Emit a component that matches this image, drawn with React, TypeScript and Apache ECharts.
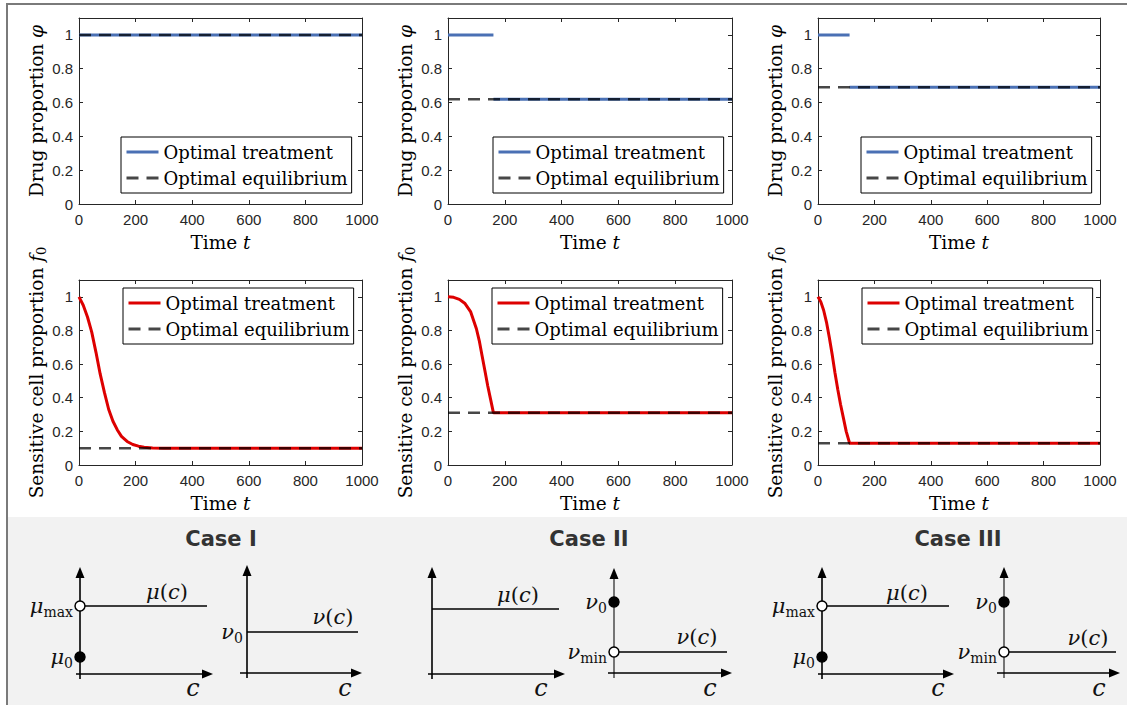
import React, { useEffect, useRef } from 'react';
import * as echarts from 'echarts';

// ---------- data ----------
const timeMin = 0;
const timeMax = 1000;
const timeStep = 200;
const propMin = 0;
const propMax = 1.1;
const propStep = 0.2;

const seriesNames = ['Optimal treatment', 'Optimal equilibrium'];
const caseTitles = ['Case I', 'Case II', 'Case III'];

// drug proportion phi(t)
const drugTreatmentI = [[0, 1], [1000, 1]];
const drugEquilibriumI = [[0, 1], [1000, 1]];
const drugTreatmentII = [[0, 1], [160, 1], [160, '-'], [160, 0.62], [1000, 0.62]];
const drugEquilibriumII = [[0, 0.62], [1000, 0.62]];
const drugTreatmentIII = [[0, 1], [112, 1], [112, '-'], [112, 0.69], [1000, 0.69]];
const drugEquilibriumIII = [[0, 0.69], [1000, 0.69]];

// sensitive cell proportion f0(t)
const cellTreatmentI = [
  [0, 1], [15, 0.95], [30, 0.88], [45, 0.79], [60, 0.67], [75, 0.54], [90, 0.43],
  [105, 0.33], [120, 0.26], [135, 0.21], [150, 0.17], [170, 0.14], [190, 0.122],
  [210, 0.112], [230, 0.106], [260, 0.101], [300, 0.1], [1000, 0.1],
];
const cellEquilibriumI = [[0, 0.1], [1000, 0.1]];
const cellTreatmentII = [
  [0, 1], [20, 0.997], [40, 0.985], [60, 0.96], [80, 0.91], [100, 0.81], [110, 0.74],
  [120, 0.65], [130, 0.56], [140, 0.47], [150, 0.39], [160, 0.31], [1000, 0.31],
];
const cellEquilibriumII = [[0, 0.31], [1000, 0.31]];
const cellTreatmentIII = [
  [0, 1], [10, 0.97], [20, 0.92], [30, 0.85], [40, 0.76], [50, 0.66], [60, 0.55],
  [70, 0.45], [80, 0.36], [90, 0.28], [100, 0.2], [112, 0.13], [1000, 0.13],
];
const cellEquilibriumIII = [[0, 0.13], [1000, 0.13]];

// ---------- styles / layout ----------
const SERIF = "'DejaVu Serif', serif";
const SANS = "'Liberation Sans', Arial, sans-serif";
const BLUE = '#4a70b4';
const RED = '#dd0000';
const EQ = 'rgba(0,0,0,0.72)';
const AX = '#262626';

const gridLefts = [79, 448, 818];
const gridWidths = [283, 284, 282];
const rowTops = [18, 280];
const rowHeights = [186, 185];
const legendPos = [
  [121, 137], [493, 137], [861, 137],
  [123, 288], [492, 288], [862, 288],
];

const panels = [
  { t: drugTreatmentI, e: drugEquilibriumI, color: BLUE, yName: 'Drug proportion {i|φ}' },
  { t: drugTreatmentII, e: drugEquilibriumII, color: BLUE, yName: 'Drug proportion {i|φ}' },
  { t: drugTreatmentIII, e: drugEquilibriumIII, color: BLUE, yName: 'Drug proportion {i|φ}' },
  { t: cellTreatmentI, e: cellEquilibriumI, color: RED, yName: 'Sensitive cell proportion {i|f}{s|0}' },
  { t: cellTreatmentII, e: cellEquilibriumII, color: RED, yName: 'Sensitive cell proportion {i|f}{s|0}' },
  { t: cellTreatmentIII, e: cellEquilibriumIII, color: RED, yName: 'Sensitive cell proportion {i|f}{s|0}' },
];

// schematic sketches of the bottom band
const caseTitleX = [221, 589, 958];
const sketches = [
  { vx: 80, vTop: 567, vBottom: 679, hy: 674, hLeft: 76, hRight: 213, vColor: '#000', lineY: 606, lineEnd: 207,
    dots: [{ cy: 606, open: true, base: 'μ', sub: 'max' }, { cy: 657, open: false, base: 'μ', sub: '0' }],
    fn: 'μ', fnX: 167, fnY: 592, cX: 193, cY: 688 },
  { vx: 247, vTop: 565, vBottom: 678, hy: 673, hLeft: 240, hRight: 362, vColor: '#000', lineY: 632, lineEnd: 358,
    dots: [], startLabel: { base: 'ν', sub: '0' },
    fn: 'ν', fnX: 333, fnY: 617, cX: 345, cY: 688 },
  { vx: 432, vTop: 567, vBottom: 679, hy: 674, hLeft: 428, hRight: 565, vColor: '#000', lineY: 609, lineEnd: 559,
    dots: [], fn: 'μ', fnX: 518, fnY: 595, cX: 541, cY: 688 },
  { vx: 614, vTop: 568, vBottom: 678, hy: 673, hLeft: 608, hRight: 732, vColor: '#555', lineY: 652, lineEnd: 727,
    dots: [{ cy: 602, open: false, base: 'ν', sub: '0' }, { cy: 652, open: true, base: 'ν', sub: 'min' }],
    fn: 'ν', fnX: 697, fnY: 637, cX: 710, cY: 688 },
  { vx: 822, vTop: 567, vBottom: 679, hy: 674, hLeft: 818, hRight: 954, vColor: '#000', lineY: 606, lineEnd: 949,
    dots: [{ cy: 606, open: true, base: 'μ', sub: 'max' }, { cy: 657, open: false, base: 'μ', sub: '0' }],
    fn: 'μ', fnX: 907, fnY: 593, cX: 938, cY: 688 },
  { vx: 1004, vTop: 567, vBottom: 678, hy: 673, hLeft: 997, hRight: 1120, vColor: '#555', lineY: 652, lineEnd: 1116,
    dots: [{ cy: 602, open: false, base: 'ν', sub: '0' }, { cy: 652, open: true, base: 'ν', sub: 'min' }],
    fn: 'ν', fnX: 1088, fnY: 638, cX: 1099, cY: 688 },
];

const mathRich = {
  m: { fontFamily: SERIF, fontStyle: 'italic', fontSize: 21, fill: '#111', color: '#111' },
  s: { fontFamily: SERIF, fontSize: 14, fill: '#111', color: '#111', verticalAlign: 'bottom', lineHeight: 14 },
  r: { fontFamily: SERIF, fontSize: 21, fill: '#111', color: '#111' },
};

function mathText(text: string, x: number, y: number, align: string) {
  return {
    type: 'text',
    z: 5,
    style: {
      text,
      x,
      y,
      align,
      textAlign: align,
      verticalAlign: 'middle',
      textVerticalAlign: 'middle',
      lineHeight: 26,
      fontSize: 21,
      fontFamily: SERIF,
      fill: '#111',
      rich: mathRich,
    },
  };
}

function buildGraphic() {
  const els: any[] = [];
  els.push({ type: 'rect', z: 1, shape: { x: 8, y: 517, width: 1125, height: 200 }, style: { fill: '#f2f2f2' } });
  els.push({ type: 'rect', z: 2, shape: { x: 7, y: 4, width: 1130, height: 720 }, style: { fill: 'none', stroke: '#7a7a7a', lineWidth: 2 } });
  caseTitles.forEach((t, i) => {
    els.push({
      type: 'text', z: 5,
      style: {
        text: t, x: caseTitleX[i], y: 539, align: 'center', textAlign: 'center',
        verticalAlign: 'middle', textVerticalAlign: 'middle',
        fontFamily: "'DejaVu Sans', sans-serif", fontWeight: 'bold', fontSize: 21, fill: '#333',
      },
    });
  });
  sketches.forEach((s) => {
    const lw = 1.6;
    els.push({ type: 'line', z: 4, shape: { x1: s.vx, y1: s.vBottom, x2: s.vx, y2: s.vTop + 8 }, style: { stroke: s.vColor, lineWidth: lw } });
    els.push({ type: 'polygon', z: 4, shape: { points: [[s.vx, s.vTop], [s.vx - 4.5, s.vTop + 11], [s.vx + 4.5, s.vTop + 11]] }, style: { fill: '#000' } });
    els.push({ type: 'line', z: 4, shape: { x1: s.hLeft, y1: s.hy, x2: s.hRight - 8, y2: s.hy }, style: { stroke: '#000', lineWidth: lw } });
    els.push({ type: 'polygon', z: 4, shape: { points: [[s.hRight, s.hy], [s.hRight - 11, s.hy - 4.5], [s.hRight - 11, s.hy + 4.5]] }, style: { fill: '#000' } });
    els.push({ type: 'line', z: 4, shape: { x1: s.vx, y1: s.lineY, x2: s.lineEnd, y2: s.lineY }, style: { stroke: '#000', lineWidth: lw } });
    s.dots.forEach((d) => {
      els.push({ type: 'circle', z: 6, shape: { cx: s.vx, cy: d.cy, r: 5 }, style: { fill: d.open ? '#fff' : '#000', stroke: '#000', lineWidth: 1.5 } });
      els.push(mathText(`{m|${d.base}}{s|${d.sub}}`, s.vx - 7, d.cy, 'right'));
    });
    if ((s as any).startLabel) {
      const l = (s as any).startLabel;
      els.push(mathText(`{m|${l.base}}{s|${l.sub}}`, s.vx - 4, s.lineY, 'right'));
    }
    els.push(mathText(`{m|${s.fn}}{r|(}{m|c}{r|)}`, s.fnX, s.fnY, 'center'));
    els.push({
      type: 'text', z: 5,
      style: {
        text: 'c', x: s.cX, y: s.cY, align: 'center', textAlign: 'center', verticalAlign: 'middle', textVerticalAlign: 'middle',
        fontFamily: SERIF, fontStyle: 'italic', fontSize: 24, fill: '#111',
      },
    });
  });
  return els;
}

function buildOption() {
  const grid: any[] = [];
  const xAxis: any[] = [];
  const yAxis: any[] = [];
  const series: any[] = [];
  const legend: any[] = [];

  const nameStyle = {
    fontFamily: SERIF,
    fontSize: 18.5,
    color: '#000',
    lineHeight: 24,
    rich: {
      i: { fontFamily: SERIF, fontStyle: 'italic', fontSize: 18.5, color: '#000' },
      s: { fontFamily: SERIF, fontSize: 13, color: '#000', verticalAlign: 'bottom', lineHeight: 13 },
    },
  };
  const axisLine = { show: true, onZero: false, lineStyle: { color: AX, width: 1 } };
  const axisTick = { show: true, inside: true, length: 4, lineStyle: { color: AX, width: 1 } };

  panels.forEach((p, g) => {
    const row = Math.floor(g / 3);
    const col = g % 3;
    grid.push({ left: gridLefts[col], top: rowTops[row], width: gridWidths[col], height: rowHeights[row] });

    const xBase = { gridIndex: g, type: 'value', min: timeMin, max: timeMax, interval: timeStep, splitLine: { show: false }, axisLine, axisTick };
    xAxis.push({
      ...xBase, position: 'bottom',
      axisLabel: { color: AX, fontFamily: SANS, fontSize: 15, margin: 8, formatter: (v: number) => String(v) },
      name: 'Time {i|t}', nameLocation: 'middle', nameGap: 26, nameTextStyle: nameStyle,
    });
    xAxis.push({ ...xBase, position: 'top', axisLabel: { show: false } });

    const yBase = { gridIndex: g, type: 'value', min: propMin, max: propMax, interval: propStep, splitLine: { show: false }, axisLine, axisTick };
    yAxis.push({
      ...yBase, position: 'left',
      axisLabel: {
        color: AX, fontFamily: SANS, fontSize: 15, margin: 6,
        formatter: (v: number) => (v > 1.05 ? '' : String(Math.round(v * 10) / 10)),
      },
      name: p.yName, nameLocation: 'middle', nameGap: 30, nameRotate: 90, nameTextStyle: nameStyle,
    });
    yAxis.push({ ...yBase, position: 'right', axisLabel: { show: false } });

    const tName = `${seriesNames[0]}|${g}`;
    const eName = `${seriesNames[1]}|${g}`;
    series.push({
      type: 'line', name: tName, xAxisIndex: 2 * g, yAxisIndex: 2 * g, data: p.t,
      symbol: 'none', showSymbol: false, connectNulls: false, z: 2,
      lineStyle: { color: p.color, width: 3 }, itemStyle: { color: p.color },
    });
    series.push({
      type: 'line', name: eName, xAxisIndex: 2 * g, yAxisIndex: 2 * g, data: p.e,
      symbol: 'none', showSymbol: false, z: 3,
      lineStyle: { color: EQ, width: 2.5, type: [12, 8] }, itemStyle: { color: EQ },
    });
    legend.push({
      show: true, orient: 'vertical', left: legendPos[g][0], top: legendPos[g][1],
      data: [tName, eName],
      formatter: (n: string) => n.split('|')[0],
      itemWidth: 32, itemHeight: 14, itemGap: 2, padding: [3, 4, 3, 4],
      borderColor: '#000', borderWidth: 1, borderRadius: 0, backgroundColor: '#fff',
      selectedMode: false,
      itemStyle: { color: 'rgba(0,0,0,0)', borderWidth: 0, opacity: 0 },
      lineStyle: { width: 3 },
      textStyle: { fontFamily: SERIF, fontSize: 18, color: '#000', lineHeight: 24 },
    });
  });

  return {
    animation: false,
    backgroundColor: '#fff',
    grid, xAxis, yAxis, series, legend,
    graphic: { elements: buildGraphic() },
  };
}

export default function App() {
  const ref = useRef<HTMLDivElement>(null);
  useEffect(() => {
    if (!ref.current) return;
    const chart = echarts.init(ref.current, null, { renderer: 'svg' });
    chart.setOption(buildOption() as any);
    return () => chart.dispose();
  }, []);
  return <div ref={ref} style={{ position: 'fixed', left: 0, top: 0, width: 1127, height: 705 }} />;
}
